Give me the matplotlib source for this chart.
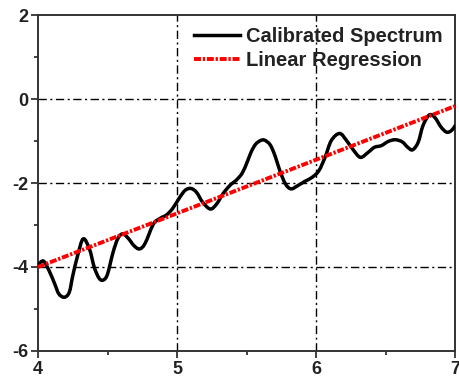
import matplotlib
matplotlib.use("Agg")
import matplotlib.pyplot as plt
from matplotlib.path import Path
from matplotlib.patches import PathPatch
from matplotlib.lines import Line2D
import numpy as np

plt.rcParams['font.family'] = ['Liberation Sans', 'DejaVu Sans']
plt.rcParams['font.weight'] = 'bold'
plt.rcParams['axes.unicode_minus'] = False

# Calibrated spectrum samples (x, value)
spec_x = [4.005, 4.04, 4.08, 4.12, 4.15, 4.19, 4.225, 4.25, 4.285, 4.325, 4.37,
          4.405, 4.44, 4.47, 4.50, 4.54, 4.575, 4.61, 4.65, 4.69, 4.73, 4.77,
          4.83, 4.88, 4.925, 4.97, 5.02, 5.06, 5.10, 5.14, 5.185, 5.24, 5.285,
          5.33, 5.38, 5.43, 5.47, 5.505, 5.535, 5.565, 5.60, 5.63, 5.67, 5.705,
          5.74, 5.78, 5.82, 5.87, 5.92, 5.97, 6.02, 6.065, 6.11, 6.17, 6.22,
          6.27, 6.32, 6.375, 6.42, 6.47, 6.52, 6.57, 6.62, 6.66, 6.695, 6.735,
          6.77, 6.815, 6.855, 6.90, 6.94, 6.975, 7.0]
spec_y = [-3.93, -3.86, -4.09, -4.40, -4.64, -4.72, -4.60, -4.21, -3.73, -3.33, -3.57,
          -4.01, -4.27, -4.31, -4.17, -3.65, -3.32, -3.21, -3.32, -3.49, -3.57, -3.44,
          -2.98, -2.84, -2.76, -2.60, -2.34, -2.17, -2.13, -2.22, -2.46, -2.62, -2.50,
          -2.26, -2.06, -1.92, -1.76, -1.50, -1.25, -1.08, -0.99, -0.98, -1.09, -1.35,
          -1.71, -2.02, -2.14, -2.06, -1.96, -1.87, -1.71, -1.39, -0.99, -0.82, -0.99,
          -1.22, -1.39, -1.27, -1.15, -1.11, -1.01, -0.97, -1.02, -1.15, -1.21, -1.03,
          -0.63, -0.38, -0.44, -0.67, -0.79, -0.75, -0.64]

# Linear fit: value = slope * x + intercept
fit_slope = 1.277
fit_intercept = -9.108
fit_range = [4.0, 7.0]

x_ticks = [4, 5, 6, 7]
y_ticks = [-6, -4, -2, 0, 2]
labels = ["Calibrated Spectrum", "Linear Regression"]


def smooth_path(xs, ys):
    """Cubic Bezier path passing through every sample (Catmull-Rom tangents)."""
    p = np.column_stack([xs, ys])
    verts = [p[0]]
    codes = [Path.MOVETO]
    n = len(p)
    for i in range(n - 1):
        p0 = p[i - 1] if i > 0 else p[i]
        p1, p2 = p[i], p[i + 1]
        p3 = p[i + 2] if i + 2 < n else p[i + 1]
        c1 = p1 + (p2 - p0) / 6.0
        c2 = p2 - (p3 - p1) / 6.0
        verts += [c1, c2, p2]
        codes += [Path.CURVE4] * 3
    return Path(verts, codes)


fig = plt.figure(figsize=(4.59, 3.79), dpi=100)
ax = fig.add_axes([0.0828, 0.0739, 0.9085, 0.8865])

ax.set_xlim(4, 7)
ax.set_ylim(-6, 2)
ax.set_xticks(x_ticks)
ax.set_yticks(y_ticks)
ax.set_xticks([4.5, 5.5, 6.5], minor=True)
ax.set_yticks([-5, -3, -1, 1], minor=True)

grid_style = dict(color='black', lw=1.0, linestyle=(0, (6, 2.5, 1.5, 2.5)), zorder=1)
for gx in [5, 6]:
    ax.axvline(gx, **grid_style)
for gy in [-4, -2, 0]:
    ax.axhline(gy, **grid_style)

spec_lw = 2.5
spec_patch = PathPatch(smooth_path(spec_x, spec_y), fill=False, edgecolor='black',
                       lw=spec_lw, joinstyle='round', capstyle='round', zorder=3)
ax.add_patch(spec_patch)

fit_style = dict(color='#ff0000', lw=2.8, linestyle=(0, (1.8, 0.45, 0.6, 0.45)))
fx = np.array(fit_range)
ax.plot(fx, fit_slope * fx + fit_intercept, zorder=4, **fit_style)

spine_color = '#333333'
for s in ax.spines.values():
    s.set_color(spine_color)
    s.set_linewidth(1.4)

ax.tick_params(which='major', direction='out', length=5, width=1.3, color=spine_color,
               labelsize=13, labelcolor='#222222', pad=2)
ax.tick_params(which='minor', direction='out', length=3, width=1.3, color=spine_color)
for lab in ax.get_xticklabels() + ax.get_yticklabels():
    lab.set_fontweight('bold')

handles = [Line2D([], [], color='black', lw=spec_lw),
           Line2D([], [], **fit_style)]
leg = ax.legend(handles, labels, loc='upper right', frameon=False,
                handlelength=2.3, handletextpad=0.3, labelspacing=0.25,
                borderaxespad=0.2, prop={'weight': 'bold', 'size': 14.5})
for t in leg.get_texts():
    t.set_color('#222222')

fig.savefig('out.png', dpi=100)
